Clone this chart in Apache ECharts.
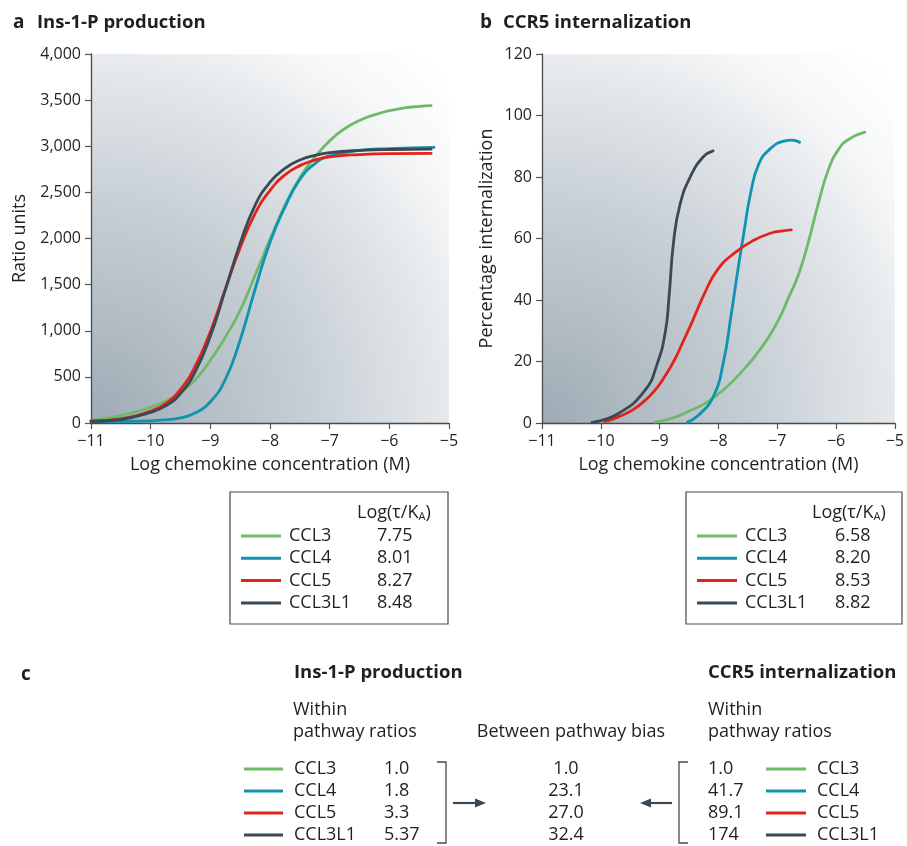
<!DOCTYPE html>
<html>
<head>
<meta charset="utf-8">
<script src="https://cdn.jsdelivr.net/npm/echarts@6/dist/echarts.min.js"></script>
<style>html,body{margin:0;padding:0;background:#fff}#c{width:907px;height:846px}</style>
</head>
<body>
<div id="c"></div>
<script>
// ---------- data ----------
const chemokines = ['CCL3', 'CCL4', 'CCL5', 'CCL3L1'];
const logTauKA_ins = ['7.75', '8.01', '8.27', '8.48'];
const logTauKA_ccr5 = ['6.58', '8.20', '8.53', '8.82'];
const insRatios = ['1.0', '1.8', '3.3', '5.37'];
const ccr5Ratios = ['1.0', '41.7', '89.1', '174'];
const biasValues = ['1.0', '23.1', '27.0', '32.4'];

// Panel a: Ins-1-P production (x = log M, y = ratio units)
const insCCL3 = [[-11,29],[-10.5,80],[-10,170],[-9.75,235],[-9.5,330],[-9.25,470],[-9,680],[-8.75,930],[-8.5,1220],[-8.25,1600],[-8,1990],[-7.75,2360],[-7.5,2660],[-7.25,2880],[-7,3060],[-6.75,3190],[-6.5,3280],[-6.25,3340],[-6,3385],[-5.75,3415],[-5.5,3432],[-5.3,3440]];
const insCCL4 = [[-11,15],[-10.5,17],[-10,24],[-9.75,35],[-9.5,55],[-9.25,110],[-9,230],[-8.75,470],[-8.5,900],[-8.25,1450],[-8,1960],[-7.75,2340],[-7.5,2640],[-7.25,2810],[-7,2895],[-6.5,2955],[-6,2975],[-5.25,2988]];
const insCCL5 = [[-11,22],[-10.5,45],[-10,130],[-9.75,210],[-9.5,365],[-9.25,620],[-9,990],[-8.75,1450],[-8.5,1900],[-8.25,2270],[-8,2520],[-7.75,2690],[-7.5,2790],[-7.25,2850],[-7,2885],[-6.5,2910],[-6,2920],[-5.3,2922]];
const insCCL3L1 = [[-11,15],[-10.5,38],[-10,115],[-9.75,185],[-9.5,320],[-9.25,560],[-9,940],[-8.75,1440],[-8.5,1950],[-8.25,2360],[-8,2610],[-7.75,2760],[-7.5,2850],[-7.25,2900],[-7,2930],[-6.5,2955],[-6,2965],[-5.3,2968]];

// Panel b: CCR5 internalization (x = log M, y = %)
const ccrCCL3 = [[-9.08,0.3],[-8.81,1.4],[-8.53,3.6],[-8.19,6.8],[-7.86,11.7],[-7.58,17.2],[-7.3,23.7],[-7.02,32],[-6.8,41.1],[-6.63,48.7],[-6.46,59.6],[-6.3,71.5],[-6.13,82.4],[-5.96,88.9],[-5.79,92.2],[-5.51,94.6]];
const ccrCCL4 = [[-8.53,0.2],[-8.34,2.5],[-8.09,8.5],[-7.92,19.3],[-7.78,35.6],[-7.67,49.7],[-7.56,62.7],[-7.46,74],[-7.31,84.4],[-7.1,89.5],[-6.9,91.6],[-6.75,92],[-6.62,91.3]];
const ccrCCL5 = [[-9.93,0.4],[-9.7,2],[-9.47,4.1],[-9.28,6.8],[-9.08,10.6],[-8.9,15.5],[-8.75,20.4],[-8.6,26.5],[-8.46,32.3],[-8.24,42],[-8.02,49.7],[-7.74,55.1],[-7.4,59.4],[-7.1,61.8],[-6.9,62.5],[-6.76,62.8]];
const ccrCCL3L1 = [[-10.15,0.2],[-9.7,3.1],[-9.25,10.6],[-9.04,19.3],[-8.9,30],[-8.84,41],[-8.76,59.4],[-8.65,71.3],[-8.48,80],[-8.26,86.5],[-8.09,88.5]];

// ---------- styling ----------
const COLORS = ['#6dba6a', '#0f93b0', '#e2231a', '#3b4955'];
const FONT = '"Open Sans", "Noto Sans", sans-serif';
const TXT = '#231f20';

const bg = {
  type: 'radial', x: 0, y: 1, r: 1.4,
  colorStops: [
    { offset: 0, color: '#9eabb4' },
    { offset: 0.45, color: '#c8d0d6' },
    { offset: 0.68, color: '#e2e6e9' },
    { offset: 0.84, color: '#f6f7f8' },
    { offset: 1, color: '#ffffff' }
  ]
};

function xAxis(gi) {
  return {
    type: 'value', gridIndex: gi, min: -11, max: -5, interval: 1,
    name: 'Log chemokine concentration (M)', nameLocation: 'middle', nameGap: 33,
    nameTextStyle: { fontFamily: FONT, fontSize: 18, color: TXT },
    axisLine: { lineStyle: { color: '#4a4a4a', width: 1.3 } },
    axisTick: { length: 6, lineStyle: { color: '#555', width: 1.2 } },
    axisLabel: { fontFamily: FONT, fontSize: 16, color: TXT, margin: 10,
      formatter: v => v < 0 ? '\u2212' + (-v) : String(v) },
    splitLine: { show: false }
  };
}
function yAxis(gi, max, interval, name, gap, fmt) {
  return {
    type: 'value', gridIndex: gi, min: 0, max: max, interval: interval,
    name: name, nameLocation: 'middle', nameGap: gap,
    nameTextStyle: { fontFamily: FONT, fontSize: 18, color: TXT },
    axisLine: { show: true, lineStyle: { color: '#4a4a4a', width: 1.3 } },
    axisTick: { show: true, length: 6, lineStyle: { color: '#555', width: 1.2 } },
    axisLabel: { fontFamily: FONT, fontSize: 16, color: TXT, margin: 10, formatter: fmt },
    splitLine: { show: false }
  };
}
function line(data, ci, xi) {
  return {
    type: 'line', data: data, xAxisIndex: xi, yAxisIndex: xi,
    smooth: 0.5, showSymbol: false, symbol: 'none',
    lineStyle: { color: COLORS[ci], width: 2.8, cap: 'round', join: 'round' }, silent: true
  };
}

// ---------- graphic helpers ----------
function T(x, y, text, o) {
  o = o || {};
  return { type: 'text', x: x, y: y, silent: true,
    style: { text: text, fill: TXT, fontFamily: FONT, fontSize: o.size || 18,
      fontWeight: o.bold ? 'bold' : 'normal', align: o.align || 'left', verticalAlign: 'middle', rich: o.rich } };
}
function L(x1, y1, x2, y2, color, w) {
  return { type: 'line', silent: true, shape: { x1, y1, x2, y2 }, style: { stroke: color, lineWidth: w || 3 } };
}
function PL(points, color, w) {
  return { type: 'polyline', silent: true, shape: { points }, style: { stroke: color, lineWidth: w, fill: null } };
}
function PG(points, color) {
  return { type: 'polygon', silent: true, shape: { points }, style: { fill: color } };
}

const g = [];
// titles
g.push(T(13, 23, 'a', { bold: true, size: 19 }), T(37, 23, 'Ins-1-P production', { bold: true, size: 18.5 }));
g.push(T(480, 23, 'b', { bold: true, size: 19 }), T(503, 23, 'CCR5 internalization', { bold: true, size: 18.5 }));

const rich = { s: { fontFamily: FONT, fontSize: 11, fill: TXT, verticalAlign: 'bottom', padding: [6, 0, 0, 0] } };
// legend box a
g.push({ type: 'rect', silent: true, shape: { x: 230, y: 492, width: 218, height: 132 }, style: { fill: null, stroke: '#4a4a4a', lineWidth: 1.2 } });
g.push(T(357, 513, 'Log(τ/K{s|A})', { rich: rich }));
// legend box b
g.push({ type: 'rect', silent: true, shape: { x: 686, y: 492, width: 216, height: 132 }, style: { fill: null, stroke: '#4a4a4a', lineWidth: 1.2 } });
g.push(T(812, 513, 'Log(τ/K{s|A})', { rich: rich }));

chemokines.forEach((n, i) => {
  const y = 536 + i * 22.3;
  g.push(L(241, y, 281, y, COLORS[i]), T(289, y, n), T(377, y, logTauKA_ins[i]));
  g.push(L(697, y, 737, y, COLORS[i]), T(745, y, n), T(835, y, logTauKA_ccr5[i]));
  const yc = 769 + i * 22;
  g.push(L(244, yc, 283, yc, COLORS[i]), T(294, yc, n), T(384, yc, insRatios[i]));
  g.push(T(566, yc, biasValues[i], { align: 'center' }));
  g.push(T(708, yc, ccr5Ratios[i]), L(766, yc, 806, yc, COLORS[i]), T(817, yc, n));
});

// panel c headers
g.push(T(21, 675, 'c', { bold: true, size: 19 }));
g.push(T(294, 673, 'Ins-1-P production', { bold: true, size: 18.5 }));
g.push(T(293, 710, 'Within'), T(293, 732, 'pathway ratios'));
g.push(T(571, 732, 'Between pathway bias', { align: 'center' }));
g.push(T(708, 673, 'CCR5 internalization', { bold: true, size: 18.5 }));
g.push(T(708, 710, 'Within'), T(708, 732, 'pathway ratios'));
// brackets and arrows
g.push(PL([[437, 762], [446, 762], [446, 843], [437, 843]], '#4a4a4a', 1.3));
g.push(PL([[688, 762], [679, 762], [679, 843], [688, 843]], '#4a4a4a', 1.3));
g.push(L(453, 803, 478, 803, '#3b4955', 2.2), PG([[475, 798.5], [486, 803], [475, 807.5]], '#3b4955'));
g.push(L(672, 803, 649, 803, '#3b4955', 2.2), PG([[651, 798.5], [640, 803], [651, 807.5]], '#3b4955'));

const option = {
  backgroundColor: '#ffffff',
  animation: false,
  grid: [
    { left: 91, top: 54, width: 358, height: 369, show: true, backgroundColor: bg, borderWidth: 0 },
    { left: 542, top: 54, width: 357, height: 369, show: true, backgroundColor: bg, borderWidth: 0 }
  ],
  xAxis: [xAxis(0), xAxis(1)],
  yAxis: [
    yAxis(0, 4000, 500, 'Ratio units', 62, v => v >= 1000 ? Math.floor(v / 1000) + ',' + String(v % 1000).padStart(3, '0') : String(v)),
    yAxis(1, 120, 20, 'Percentage internalization', 46, v => String(v))
  ],
  series: [
    line(insCCL3, 0, 0), line(insCCL4, 1, 0), line(insCCL5, 2, 0), line(insCCL3L1, 3, 0),
    line(ccrCCL3, 0, 1), line(ccrCCL4, 1, 1), line(ccrCCL5, 2, 1), line(ccrCCL3L1, 3, 1)
  ],
  graphic: g
};
const chart = echarts.init(document.getElementById('c'), null, { renderer: 'canvas' });
chart.setOption(option);
</script>
</body>
</html>
